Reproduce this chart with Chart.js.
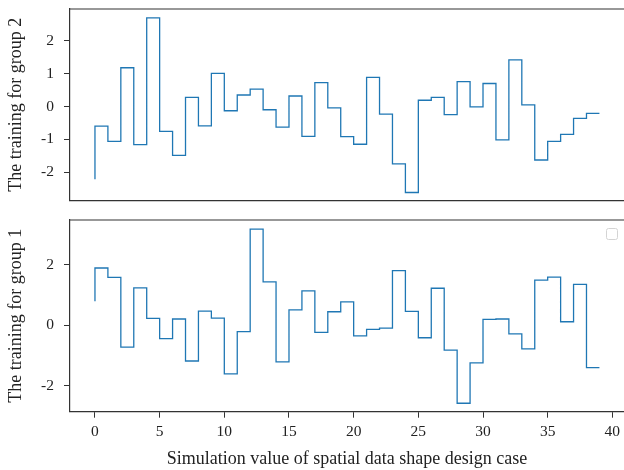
<!DOCTYPE html>
<html lang="en">
<head>
    <meta charset="UTF-8">
    <title>Training step plots</title>
    <script src="https://cdn.jsdelivr.net/npm/chart.js"></script>
    <style>
        body {
            margin: 0;
            padding: 0;
            background-color: #fff;
            width: 624px;
            height: 470px;
            overflow: hidden;
            position: relative;
        }

        .panel {
            position: absolute;
            left: 0;
            width: 624px;
        }

        #topPanel {
            top: 0;
            height: 210px;
        }

        #bottomPanel {
            top: 210px;
            height: 260px;
        }
    </style>
</head>
<body>
<div class="panel" id="topPanel"><canvas id="group2Chart"></canvas></div>
<div class="panel" id="bottomPanel"><canvas id="group1Chart"></canvas></div>

<script>
    // x positions of the steps (design case index)
    const cases = [0, 1, 2, 3, 4, 5, 6, 7, 8, 9, 10, 11, 12, 13, 14, 15, 16, 17, 18, 19,
        20, 21, 22, 23, 24, 25, 26, 27, 28, 29, 30, 31, 32, 33, 34, 35, 36, 37, 38, 39];

    // training values, group 2 (upper panel)
    const group2 = [-2.22, -0.60, -1.06, 1.18, -1.16, 2.70, -0.76, -1.49, 0.28, -0.59,
        1.01, -0.13, 0.35, 0.53, -0.10, -0.63, 0.32, -0.91, 0.73, -0.04,
        -0.92, -1.15, 0.89, -0.23, -1.75, -2.62, 0.19, 0.28, -0.25, 0.76,
        -0.01, 0.70, -1.02, 1.42, 0.05, -1.63, -1.06, -0.85, -0.36, -0.21];

    // training values, group 1 (lower panel)
    const group1 = [0.80, 1.90, 1.59, -0.72, 1.24, 0.23, -0.44, 0.21, -1.18, 0.47,
        0.24, -1.61, -0.21, 3.19, 1.44, -1.21, 0.51, 1.14, -0.23, 0.45,
        0.78, -0.35, -0.13, -0.09, 1.81, 0.46, -0.41, 1.23, -0.82, -2.58,
        -1.24, 0.20, 0.21, -0.28, -0.78, 1.50, 1.60, 0.12, 1.36, -1.40];

    // tick labels
    const xTicks = [0, 5, 10, 15, 20, 25, 30, 35, 40];
    const group2Ticks = [-2, -1, 0, 1, 2];
    const group1Ticks = [-2, 0, 2];

    const lineColor = '#1f77b4';
    const axisColor = '#333333';
    const serif = "'Liberation Serif', 'DejaVu Serif', serif";

    function toPoints(ys) {
        return cases.map((x, i) => ({ x: x, y: ys[i] }));
    }

    // top spine and the empty matplotlib-style legend box
    function frameLayer(showLegendBox) {
        return {
            id: 'frameLayer',
            afterDraw(chart) {
                const c = chart.ctx;
                const a = chart.chartArea;
                c.save();
                c.strokeStyle = axisColor;
                c.lineWidth = 1.2;
                c.beginPath();
                c.moveTo(a.left, a.top);
                c.lineTo(a.right, a.top);
                c.stroke();
                if (showLegendBox) {
                    c.strokeStyle = '#d4d4d4';
                    c.lineWidth = 1;
                    c.beginPath();
                    c.roundRect(a.right - 17.5, a.top + 8.5, 11, 11, 2);
                    c.stroke();
                }
                c.restore();
            }
        };
    }

    function makeChart(canvasId, ys, yTicks, yMin, yMax, title, opts) {
        return new Chart(document.getElementById(canvasId), {
            type: 'line',
            data: {
                datasets: [{
                    data: toPoints(ys),
                    borderColor: lineColor,
                    borderWidth: 1.3,
                    stepped: 'after',
                    pointRadius: 0,
                    fill: false
                }]
            },
            options: {
                responsive: true,
                maintainAspectRatio: false,
                animation: false,
                layout: { padding: { top: opts.padTop, bottom: opts.padBottom, left: 0, right: 0 } },
                plugins: { legend: { display: false }, tooltip: { enabled: false } },
                scales: {
                    x: {
                        type: 'linear',
                        min: -1.93,
                        max: 40.9,
                        afterBuildTicks: s => { s.ticks = xTicks.map(v => ({ value: v })); },
                        afterFit: s => { s.height = opts.xHeight; s.paddingLeft = 0; s.paddingRight = 0; },
                        grid: { display: true, drawOnChartArea: false, drawTicks: opts.showX, tickLength: 6, color: axisColor, lineWidth: 1 },
                        border: { display: true, color: axisColor, width: 1.2 },
                        ticks: { display: opts.showX, padding: 5, maxRotation: 0, color: '#222', font: { family: serif, size: 15.5 } },
                        title: {
                            display: opts.showX,
                            text: 'Simulation value of spatial data shape design case',
                            color: '#222',
                            padding: { top: 0, bottom: 0 },
                            font: { family: serif, size: 18 }
                        }
                    },
                    y: {
                        min: yMin,
                        max: yMax,
                        afterBuildTicks: s => { s.ticks = yTicks.map(v => ({ value: v })); },
                        afterFit: s => { s.width = 70; s.paddingTop = 0; s.paddingBottom = 0; },
                        grid: { display: true, drawOnChartArea: false, drawTicks: true, tickLength: 6, color: axisColor, lineWidth: 1 },
                        border: { display: true, color: axisColor, width: 1.2 },
                        ticks: { padding: 10, color: '#222', font: { family: serif, size: 15.5 } },
                        title: {
                            display: true,
                            text: title,
                            color: '#222',
                            padding: { top: 5, bottom: 0 },
                            font: { family: serif, size: 18 }
                        }
                    }
                }
            },
            plugins: [frameLayer(opts.legendBox)]
        });
    }

    makeChart('group2Chart', group2, group2Ticks, -2.87, 2.97, 'The training for group 2',
        { padTop: 9, padBottom: 9.3, xHeight: 0, showX: false, legendBox: false });

    makeChart('group1Chart', group1, group1Ticks, -2.86, 3.49, 'The training for group 1',
        { padTop: 10, padBottom: 0, xHeight: 58.3, showX: true, legendBox: true });
</script>
</body>
</html>
